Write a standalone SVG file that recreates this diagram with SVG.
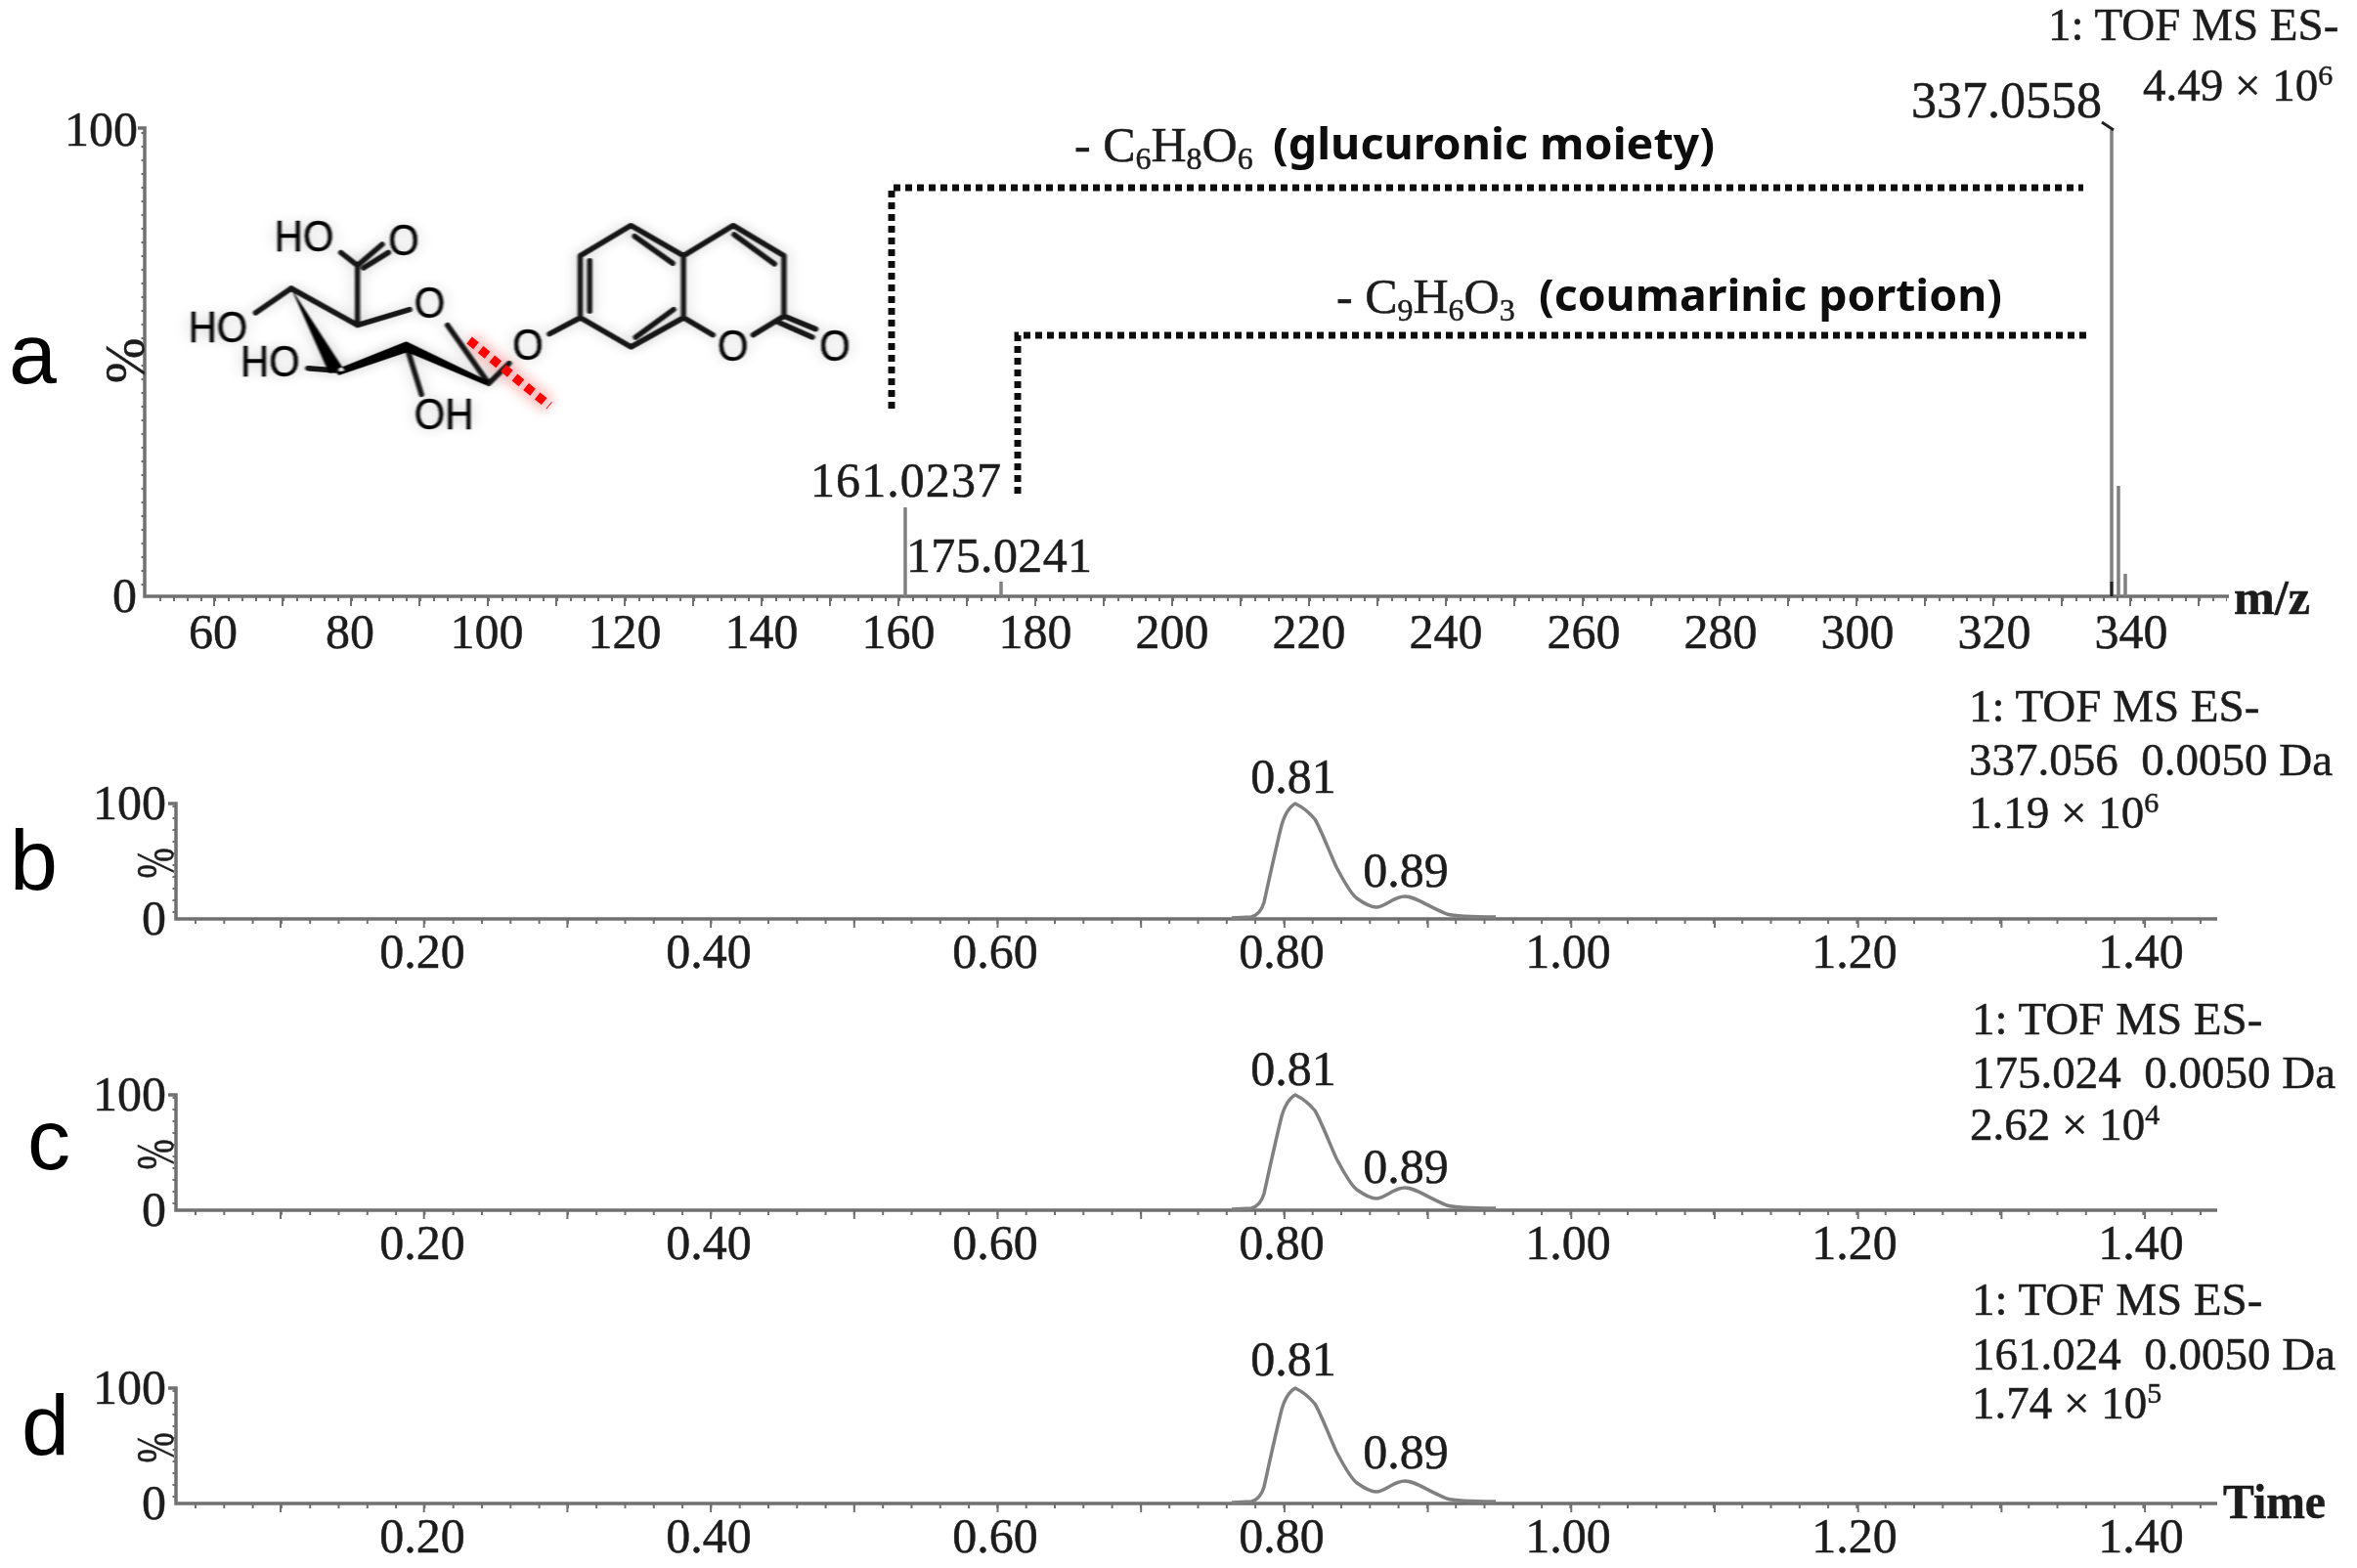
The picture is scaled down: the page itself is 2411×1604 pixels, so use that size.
<svg xmlns="http://www.w3.org/2000/svg" xmlns:xlink="http://www.w3.org/1999/xlink" width="2411" height="1604" viewBox="0 0 2411 1604">
<style>
.t{font-family:"Liberation Serif","Times New Roman",serif;font-size:50px;fill:#1c1c1c;stroke:#1c1c1c;stroke-width:.5px}
.m{text-anchor:middle}
.e{text-anchor:end}
.r{font-size:47px}
.l{font-family:"Liberation Sans",Arial,sans-serif;font-size:88px;fill:#000}
.b{font-family:"Noto Sans","DejaVu Sans",sans-serif;font-size:44px;font-weight:700;fill:#111}
.ax{stroke:#707070;stroke-width:3.5;fill:none}
.tick{stroke:#707070;fill:none}
.pk{stroke:#808080;stroke-width:3.5;fill:none;stroke-linejoin:round}
.dot{stroke:#111;stroke-width:7;stroke-dasharray:7 5;fill:none}
.bond{stroke:#141414;stroke-width:5.5;fill:none;vector-effect:non-scaling-stroke;stroke-linecap:round;stroke-linejoin:round}
.mol{font-family:"Liberation Sans",Arial,sans-serif;font-size:132px;fill:#000;stroke:#000;stroke-width:1.5px}
</style>
<defs>
<filter id="soft" x="-5%" y="-5%" width="110%" height="110%"><feGaussianBlur stdDeviation="0.7"/></filter>
<filter id="halo" x="-10%" y="-10%" width="120%" height="120%">
<feGaussianBlur in="SourceAlpha" stdDeviation="18" result="s"/>
<feComponentTransfer in="s" result="f"><feFuncA type="linear" slope="0.22"/></feComponentTransfer>
<feGaussianBlur in="SourceGraphic" stdDeviation="2" result="g"/>
<feMerge><feMergeNode in="f"/><feMergeNode in="g"/></feMerge>
</filter>
<filter id="glow" x="-30%" y="-30%" width="160%" height="160%"><feGaussianBlur stdDeviation="6"/></filter>
<g id="chrom">
<path class="ax" d="M172 -118H180V0H2268"/>
<path class="tick" stroke-width="5" stroke-dasharray="2 27.3" d="M199 2.5H2266"/>
<path class="tick" stroke-width="9" stroke-dasharray="2 144.7" d="M286 4.5H2200"/>
<path class="tick" stroke-width="3" stroke-dasharray="2 10" d="M178 -116V-2"/>
<path class="pk" d="M1260 -1L1280 -2C1287 -4 1291 -10 1293 -17C1297 -35 1303 -63 1310 -92C1313 -105 1318 -114 1325 -118C1331 -115 1340 -108 1345 -102C1352 -90 1360 -68 1367 -53C1373 -42 1381 -26 1388 -21C1395 -16 1402 -12 1408 -12C1416 -12 1426 -23 1437 -23C1448 -23 1458 -14 1480 -5C1490 -2 1510 -2 1530 -2"/>
</g>
</defs>
<rect width="2411" height="1604" fill="#fff"/>
<g id="figure" filter="url(#soft)">
<g id="panel-a">
<path class="ax" d="M141 131H148V610H2280"/>
<path class="tick" stroke-width="5" stroke-dasharray="2 12" d="M163 612.5H2278"/>
<path class="tick" stroke-width="10" stroke-dasharray="2 68" d="M218 615H2276"/>
<path class="tick" stroke-width="3" stroke-dasharray="2 12" d="M146 135V606"/>
<path class="pk" d="M926 519V610M1024 595V610M2160 133V610M2167 497V610"/>
<path class="pk" stroke-width="2.5" d="M2174 587V610"/>
<path stroke="#222" stroke-width="3" fill="none" d="M2150 125L2162 133M2160 595V610"/>
<text class="t e" x="141" y="149">100</text>
<text class="t e" x="140" y="626">0</text>
<text class="t m" transform="translate(147 369) rotate(-90)" style="font-size:56px">%</text>
<text class="t m" x="218" y="663">60</text><text class="t m" x="358" y="663">80</text><text class="t m" x="498" y="663">100</text><text class="t m" x="639" y="663">120</text><text class="t m" x="779" y="663">140</text><text class="t m" x="919" y="663">160</text><text class="t m" x="1059" y="663">180</text><text class="t m" x="1199" y="663">200</text><text class="t m" x="1339" y="663">220</text><text class="t m" x="1479" y="663">240</text><text class="t m" x="1620" y="663">260</text><text class="t m" x="1760" y="663">280</text><text class="t m" x="1900" y="663">300</text><text class="t m" x="2040" y="663">320</text><text class="t m" x="2180" y="663">340</text>
<text class="t" x="2285" y="628" font-weight="700" textLength="78" lengthAdjust="spacingAndGlyphs">m/z</text>
<text class="t" x="829" y="508" textLength="195">161.0237</text>
<text class="t" x="927" y="585" textLength="190">175.0241</text>
<text class="t" x="1955" y="120" textLength="195" style="font-size:52px">337.0558</text>
<text class="t r" x="2095" y="41">1: TOF MS ES-</text>
<text class="t r" x="2192" y="103">4.49 × 10<tspan font-size="30" dy="-16">6</tspan></text>
<text class="l" x="9" y="392">a</text>
</g>
<g id="molecule">
<path d="M480 348L562 415" fill="none" stroke="#f00" stroke-opacity=".25" stroke-width="18" filter="url(#glow)"/>
<g filter="url(#halo)" transform="translate(150 180) scale(0.4847 0.3333)">
<path class="bond" d="M305 345L445 458L555 410M635 458L722 637M445 458V275L410 235M305 345L230 420M400 597L340 590M548 520L580 670M722 637L765 575M850 485L915 435V245L1022 152L1133 245V435L1022 525L915 435M935 260V415M1030 185L1110 268M1032 495L1112 410M1133 245L1238 152L1345 245V430L1280 488M1133 435L1195 488M1240 180L1325 270M1345 430L1412 470M1335 450L1405 495M445 275L497 210M458 282L510 235"/>
<path fill="#000" d="M305 345L385 605L418 598ZM398 595L548 508L556 538L405 612ZM548 508L722 630L716 642L545 538Z"/>
<text class="mol" x="270" y="232" textLength="125" lengthAdjust="spacingAndGlyphs">HO</text>
<text class="mol" x="88" y="510" textLength="125" lengthAdjust="spacingAndGlyphs">HO</text>
<text class="mol" x="198" y="615" textLength="125" lengthAdjust="spacingAndGlyphs">HO</text>
<text class="mol" x="565" y="778" textLength="125" lengthAdjust="spacingAndGlyphs">OH</text>
<text class="mol" x="510" y="243" textLength="65" lengthAdjust="spacingAndGlyphs">O</text>
<text class="mol" x="565" y="435" textLength="65" lengthAdjust="spacingAndGlyphs">O</text>
<text class="mol" x="772" y="565" textLength="65" lengthAdjust="spacingAndGlyphs">O</text>
<text class="mol" x="1205" y="567" textLength="65" lengthAdjust="spacingAndGlyphs">O</text>
<text class="mol" x="1420" y="567" textLength="65" lengthAdjust="spacingAndGlyphs">O</text>
</g>
<path d="M480 348L562 415" fill="none" stroke="#f00" stroke-width="9" stroke-dasharray="9 6"/>
</g>
<g id="connectors">
<path class="dot" d="M912 418V192H2131"/>
<path class="dot" d="M1041 505V343H2137"/>
</g>
<g id="fragment-labels">
<text class="t" x="1099" y="165">- C<tspan font-size="32" dy="8">6</tspan><tspan dy="-8">H</tspan><tspan font-size="32" dy="8">8</tspan><tspan dy="-8">O</tspan><tspan font-size="32" dy="8">6</tspan></text>
<text class="b" x="1302" y="163" textLength="452" lengthAdjust="spacingAndGlyphs">(glucuronic moiety)</text>
<text class="t" x="1367" y="320">- C<tspan font-size="32" dy="8">9</tspan><tspan dy="-8">H</tspan><tspan font-size="32" dy="8">6</tspan><tspan dy="-8">O</tspan><tspan font-size="32" dy="8">3</tspan></text>
<text class="b" x="1574" y="318" textLength="474" lengthAdjust="spacingAndGlyphs">(coumarinic portion)</text>
</g>
<g id="panel-b">
<use xlink:href="#chrom" href="#chrom" transform="translate(0 940)"/>
<text class="t e" x="170" y="838">100</text><text class="t e" x="170" y="956">0</text>
<text class="t m" transform="translate(177 883) rotate(-90) scale(.75 1.1)">%</text>
<text class="t m" x="432" y="990">0.20</text><text class="t m" x="725" y="990">0.40</text><text class="t m" x="1018" y="990">0.60</text><text class="t m" x="1311" y="990">0.80</text><text class="t m" x="1604" y="990">1.00</text><text class="t m" x="1897" y="990">1.20</text><text class="t m" x="2190" y="990">1.40</text>
<text class="t m" x="1323" y="811">0.81</text><text class="t m" x="1438" y="907">0.89</text>
<text class="t r" x="2014" y="738">1: TOF MS ES-</text>
<text class="t r" x="2014" y="793" xml:space="preserve">337.056  0.0050 Da</text>
<text class="t r" x="2014" y="847">1.19 × 10<tspan font-size="30" dy="-16">6</tspan></text>
<text class="l" x="10" y="910">b</text>
</g>
<g id="panel-c">
<use xlink:href="#chrom" href="#chrom" transform="translate(0 1238)"/>
<text class="t e" x="170" y="1136">100</text><text class="t e" x="170" y="1254">0</text>
<text class="t m" transform="translate(177 1181) rotate(-90) scale(.75 1.1)">%</text>
<text class="t m" x="432" y="1288">0.20</text><text class="t m" x="725" y="1288">0.40</text><text class="t m" x="1018" y="1288">0.60</text><text class="t m" x="1311" y="1288">0.80</text><text class="t m" x="1604" y="1288">1.00</text><text class="t m" x="1897" y="1288">1.20</text><text class="t m" x="2190" y="1288">1.40</text>
<text class="t m" x="1323" y="1110">0.81</text><text class="t m" x="1438" y="1210">0.89</text>
<text class="t r" x="2017" y="1058">1: TOF MS ES-</text>
<text class="t r" x="2017" y="1113" xml:space="preserve">175.024  0.0050 Da</text>
<text class="t r" x="2015" y="1166">2.62 × 10<tspan font-size="30" dy="-16">4</tspan></text>
<text class="l" x="28" y="1196">c</text>
</g>
<g id="panel-d">
<use xlink:href="#chrom" href="#chrom" transform="translate(0 1538)"/>
<text class="t e" x="170" y="1436">100</text><text class="t e" x="170" y="1554">0</text>
<text class="t m" transform="translate(177 1481) rotate(-90) scale(.75 1.1)">%</text>
<text class="t m" x="432" y="1588">0.20</text><text class="t m" x="725" y="1588">0.40</text><text class="t m" x="1018" y="1588">0.60</text><text class="t m" x="1311" y="1588">0.80</text><text class="t m" x="1604" y="1588">1.00</text><text class="t m" x="1897" y="1588">1.20</text><text class="t m" x="2190" y="1588">1.40</text>
<text class="t m" x="1323" y="1407">0.81</text><text class="t m" x="1438" y="1502">0.89</text>
<text class="t r" x="2017" y="1345">1: TOF MS ES-</text>
<text class="t r" x="2017" y="1401" xml:space="preserve">161.024  0.0050 Da</text>
<text class="t r" x="2017" y="1451">1.74 × 10<tspan font-size="30" dy="-16">5</tspan></text>
<text class="t" x="2274" y="1553" font-weight="700" textLength="105" lengthAdjust="spacingAndGlyphs">Time</text>
<text class="l" x="22" y="1488">d</text>
</g>
</g>
</svg>
